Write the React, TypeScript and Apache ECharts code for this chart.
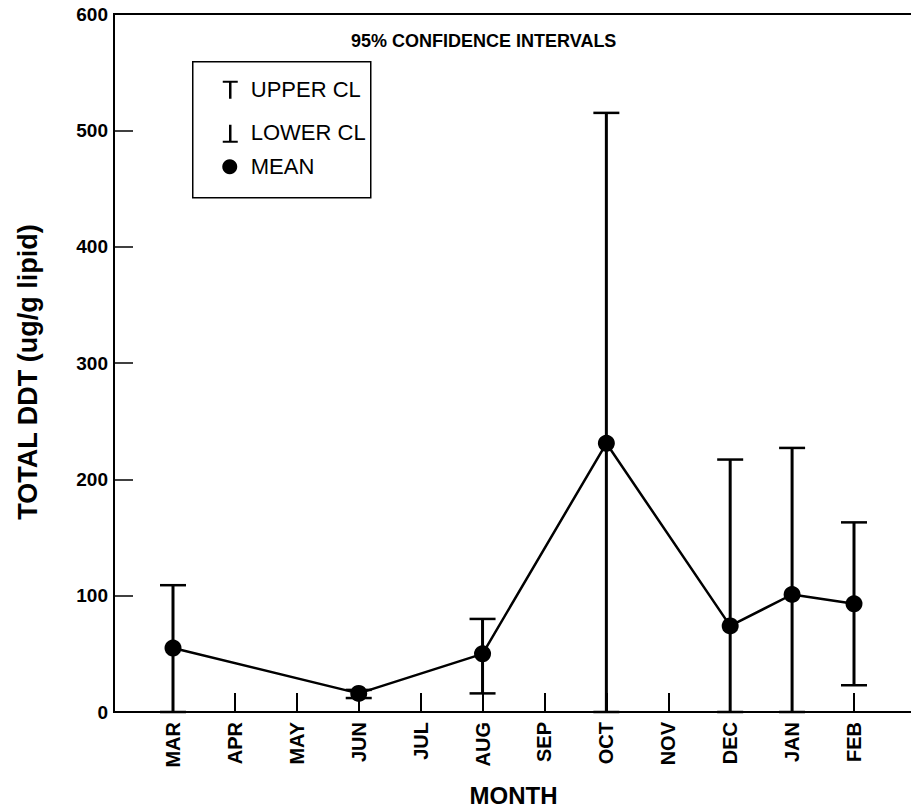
import React, { useEffect, useRef } from "react";
import * as echarts from "echarts";

const months = ["MAR", "APR", "MAY", "JUN", "JUL", "AUG", "SEP", "OCT", "NOV", "DEC", "JAN", "FEB"];
const meanValues = [55, null, null, 16, null, 50, null, 231, null, 74, 101, 93];
const upperCL = [109, null, null, 19, null, 80, null, 515, null, 217, 227, 163];
const lowerCL = [0, null, null, 12, null, 16, null, 0, null, 0, 0, 23];
const yTicks = { min: 0, max: 600, step: 100 };

const FONT = "'Liberation Sans', Arial, Helvetica, sans-serif";

export default function App() {
  const ref = useRef<HTMLDivElement>(null);

  useEffect(() => {
    if (!ref.current) return;
    const chart = echarts.init(ref.current, undefined, { renderer: "svg" });

    const errorData = months
      .map((_, i) => (upperCL[i] == null ? null : [i, lowerCL[i], upperCL[i]]))
      .filter((d) => d !== null);

    const option = {
      animation: false,
      backgroundColor: "#ffffff",
      textStyle: { fontFamily: FONT, color: "#000" },
      grid: [
        // frame: left axis, bottom axis and top rule (right side runs off the page)
        { left: 114, top: 14, right: -10, bottom: 95, show: true, borderColor: "#000", borderWidth: 2, backgroundColor: "transparent", outerBoundsMode: "none" },
        // plotting area spanning the month positions
        { left: 173, top: 14, right: 57, bottom: 95, outerBoundsMode: "none" },
      ],
      xAxis: [
        { gridIndex: 0, type: "value", min: 0, max: 1, show: false },
        {
          gridIndex: 1,
          type: "category",
          data: months,
          boundaryGap: false,
          axisLine: { show: false },
          axisTick: { show: true, inside: true, length: 19, alignWithLabel: true, lineStyle: { color: "#000", width: 2 } },
          axisLabel: { rotate: 90, margin: 10, fontSize: 20, fontWeight: "bold", color: "#000", fontFamily: FONT },
          splitLine: { show: false },
          name: "MONTH",
          nameLocation: "middle",
          nameGap: 71,
          nameTextStyle: { fontSize: 24, fontWeight: "bold", color: "#000", fontFamily: FONT, verticalAlign: "top" },
        },
      ],
      yAxis: [
        {
          gridIndex: 0,
          type: "value",
          min: yTicks.min,
          max: yTicks.max,
          interval: yTicks.step,
          axisLine: { show: true, lineStyle: { color: "#000", width: 2 } },
          axisTick: { show: true, inside: true, length: 19, lineStyle: { color: "#000", width: 1.5 } },
          axisLabel: { margin: 6, fontSize: 19, fontWeight: "bold", color: "#000", fontFamily: FONT },
          splitLine: { show: false },
        },
        { gridIndex: 1, type: "value", min: yTicks.min, max: yTicks.max, show: false },
      ],
      graphic: [
        {
          type: "text",
          x: 28,
          y: 372,
          rotation: Math.PI / 2,
          style: {
            text: "TOTAL DDT (ug/g lipid)",
            fontSize: 27,
            fontWeight: "bold",
            fill: "#000",
            fontFamily: FONT,
            align: "center",
            verticalAlign: "middle",
          },
        },
        {
          type: "text",
          left: 351,
          top: 32,
          style: { text: "95% CONFIDENCE INTERVALS", fontSize: 18, fontWeight: "bold", fill: "#000", fontFamily: FONT },
        },
        {
          type: "group",
          left: 192,
          top: 61,
          children: [
            { type: "rect", shape: { x: 0, y: 0, width: 178, height: 136 }, style: { fill: "#fff", stroke: "#000", lineWidth: 1.5 } },
            // upper-limit glyph
            { type: "line", shape: { x1: 30, y1: 20, x2: 45, y2: 20 }, style: { stroke: "#000", lineWidth: 2 } },
            { type: "line", shape: { x1: 37.5, y1: 20, x2: 37.5, y2: 37 }, style: { stroke: "#000", lineWidth: 2.5 } },
            // lower-limit glyph
            { type: "line", shape: { x1: 37.5, y1: 63, x2: 37.5, y2: 80 }, style: { stroke: "#000", lineWidth: 2.5 } },
            { type: "line", shape: { x1: 30, y1: 80, x2: 45, y2: 80 }, style: { stroke: "#000", lineWidth: 2 } },
            // mean glyph
            { type: "circle", shape: { cx: 37, cy: 105, r: 7.5 }, style: { fill: "#000" } },
            { type: "text", x: 58, y: 28, style: { text: "UPPER CL", fontSize: 22, fill: "#000", fontFamily: FONT, verticalAlign: "middle" } },
            { type: "text", x: 58, y: 71, style: { text: "LOWER CL", fontSize: 22, fill: "#000", fontFamily: FONT, verticalAlign: "middle" } },
            { type: "text", x: 58, y: 105, style: { text: "MEAN", fontSize: 22, fill: "#000", fontFamily: FONT, verticalAlign: "middle" } },
          ],
        },
      ],
      series: [
        {
          type: "custom",
          name: "95% CL",
          xAxisIndex: 1,
          yAxisIndex: 1,
          data: errorData,
          renderItem: (params: any, api: any) => {
            const x = api.value(0);
            const lo = api.coord([x, api.value(1)]);
            const hi = api.coord([x, api.value(2)]);
            const half = 13;
            return {
              type: "group",
              children: [
                { type: "line", shape: { x1: hi[0], y1: hi[1], x2: lo[0], y2: lo[1] }, style: { stroke: "#000", lineWidth: 3 } },
                { type: "line", shape: { x1: hi[0] - half, y1: hi[1], x2: hi[0] + half, y2: hi[1] }, style: { stroke: "#000", lineWidth: 2.5 } },
                { type: "line", shape: { x1: lo[0] - half, y1: lo[1], x2: lo[0] + half, y2: lo[1] }, style: { stroke: "#000", lineWidth: 2.5 } },
              ],
            };
          },
          z: 2,
        },
        {
          type: "line",
          name: "MEAN",
          xAxisIndex: 1,
          yAxisIndex: 1,
          data: meanValues,
          connectNulls: true,
          symbol: "circle",
          symbolSize: 17,
          itemStyle: { color: "#000" },
          lineStyle: { color: "#000", width: 2.5 },
          z: 3,
        },
      ],
    };

    chart.setOption(option as any);
    return () => chart.dispose();
  }, []);

  return (
    <div
      ref={ref}
      style={{ position: "fixed", left: 0, top: 0, width: 911, height: 807, background: "#fff" }}
    />
  );
}
